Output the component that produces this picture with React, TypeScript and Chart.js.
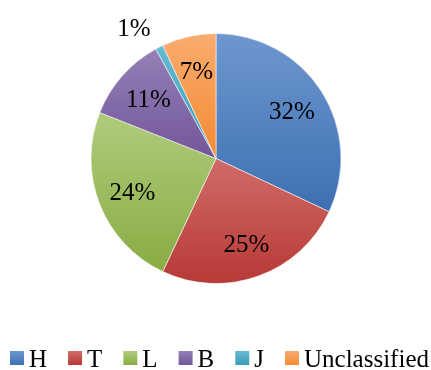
import React, { useEffect, useRef } from "react";
import { Chart, registerables } from "chart.js";

Chart.register(...registerables);

const categories = ["H", "T", "L", "B", "J", "Unclassified"];
const shares = [32, 25, 24, 11, 1, 7];
const topColors = ["#6E97CF", "#D06B67", "#B0CC7C", "#9580B6", "#65BCD3", "#F9AC70"];
const bottomColors = ["#3D70B2", "#B73936", "#88AC43", "#72569A", "#3A9CB7", "#F48A32"];
const baseColors = ["#4F81BD", "#C0504D", "#9BBB59", "#8064A2", "#4BACC6", "#F79646"];

const FONT = "'Liberation Serif', 'Times New Roman', serif";

function sliceGradient(ctx: any) {
  const chart = ctx.chart;
  const area = chart.chartArea;
  const i = ctx.dataIndex;
  if (!area || i === undefined) return baseColors[i ?? 0];
  const cx = (area.left + area.right) / 2;
  const cy = (area.top + area.bottom) / 2;
  const r = Math.min(area.right - area.left, area.bottom - area.top) / 2;
  const total = shares.reduce((a, b) => a + b, 0);
  let acc = 0;
  for (let k = 0; k < i; k++) acc += shares[k];
  const a0 = -Math.PI / 2 + (acc / total) * Math.PI * 2;
  const a1 = a0 + (shares[i] / total) * Math.PI * 2;
  let ymin = cy, ymax = cy;
  const steps = 60;
  for (let s = 0; s <= steps; s++) {
    const a = a0 + ((a1 - a0) * s) / steps;
    const y = cy + r * Math.sin(a);
    ymin = Math.min(ymin, y);
    ymax = Math.max(ymax, y);
  }
  if (ymax - ymin < 1) ymax = ymin + 1;
  const g = chart.ctx.createLinearGradient(0, ymin, 0, ymax);
  g.addColorStop(0, topColors[i]);
  g.addColorStop(1, bottomColors[i]);
  return g;
}

const labelPlugin = {
  id: "pctLabels",
  afterDatasetsDraw(chart: any) {
    const meta = chart.getDatasetMeta(0);
    const ctx = chart.ctx;
    ctx.save();
    ctx.font = `25px ${FONT}`;
    ctx.fillStyle = "#000";
    meta.data.forEach((arc: any, i: number) => {
      const mid = (arc.startAngle + arc.endAngle) / 2;
      const r = arc.outerRadius;
      const text = shares[i] + "%";
      if (shares[i] < 3) {
        const x = arc.x + Math.cos(mid) * r * 1.1;
        const y = arc.y + Math.sin(mid) * r * 1.1;
        ctx.textAlign = "right";
        ctx.textBaseline = "alphabetic";
        ctx.fillText(text, x - 3, y + 0);
      } else {
        const x = arc.x + Math.cos(mid) * r * 0.72;
        const y = arc.y + Math.sin(mid) * r * 0.72;
        ctx.textAlign = "center";
        ctx.textBaseline = "alphabetic";
        ctx.fillText(text, x, y + 8.5);
      }
    });
    ctx.restore();
  },
};

const legendPlugin = {
  id: "bottomLegend",
  afterDraw(chart: any) {
    const ctx = chart.ctx;
    ctx.save();
    ctx.font = `25px ${FONT}`;
    const box = 14;
    const gapText = 5;
    const gapItem = 21;
    const widths = categories.map((c) => ctx.measureText(c).width);
    let total = 0;
    widths.forEach((w, i) => {
      total += box + gapText + w + (i < widths.length - 1 ? gapItem : 0);
    });
    let x = 219.5 - total / 2;
    const baseline = 367;
    categories.forEach((c, i) => {
      const g = ctx.createLinearGradient(0, baseline - 16, 0, baseline - 2);
      g.addColorStop(0, topColors[i]);
      g.addColorStop(1, bottomColors[i]);
      ctx.fillStyle = g;
      ctx.fillRect(x, baseline - 16, box, box);
      x += box + gapText;
      ctx.fillStyle = "#000";
      ctx.textAlign = "left";
      ctx.textBaseline = "alphabetic";
      ctx.fillText(c, x, baseline);
      x += widths[i] + gapItem;
    });
    ctx.restore();
  },
};

export default function App() {
  const ref = useRef<HTMLCanvasElement | null>(null);
  useEffect(() => {
    document.body.style.margin = "0";
    const canvas = ref.current;
    if (!canvas) return;
    const chart = new Chart(canvas, {
      type: "pie",
      data: {
        labels: categories,
        datasets: [
          {
            data: shares,
            backgroundColor: sliceGradient as any,
            borderColor: "rgba(255,255,255,0.55)",
            borderWidth: 1,
          },
        ],
      },
      options: {
        animation: false,
        responsive: false,
        maintainAspectRatio: false,
        layout: { padding: { top: 33, bottom: 86, left: 1, right: 0 } },
        plugins: {
          legend: { display: false },
          tooltip: { enabled: false },
        },
      },
      plugins: [labelPlugin, legendPlugin],
    });
    return () => chart.destroy();
  }, []);
  return (
    <div style={{ width: 431, height: 370 }}>
      <canvas ref={ref} width={431} height={370} style={{ display: "block" }} />
    </div>
  );
}
